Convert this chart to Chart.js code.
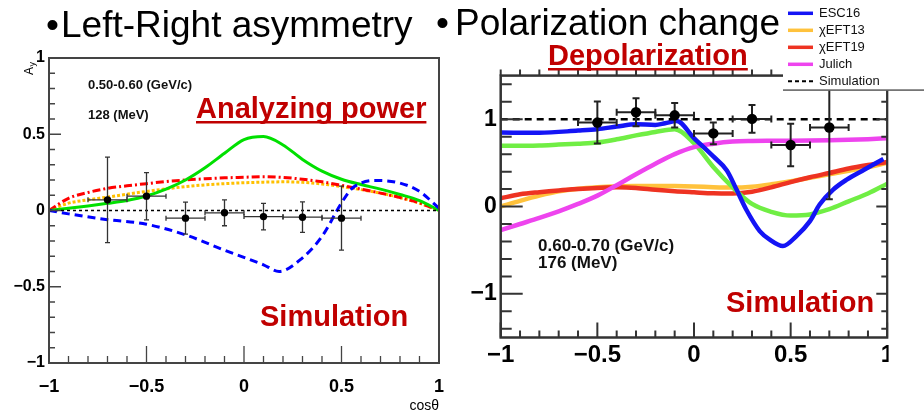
<!DOCTYPE html>
<html>
<head>
<meta charset="utf-8">
<script src="https://cdn.jsdelivr.net/npm/chart.js@4.4.1/dist/chart.umd.min.js"></script>
<style>
  body { margin: 0; background: #fff; width: 924px; height: 418px; overflow: hidden; position: relative; font-family: "Liberation Sans", Arial, sans-serif; }
  .wrap { position: absolute; }
  .title { position: absolute; font-size: 37px; line-height: 37px; color: #000; white-space: nowrap; z-index: 2; }
</style>
</head>
<body>
<div class="title" style="left:46px;top:5.6px">•</div>
<div class="title" style="left:61px;top:5.6px">Left-Right asymmetry</div>
<div class="title" style="left:436px;top:4px">•</div>
<div class="title" style="left:455px;top:4px">Polarization change</div>
<div class="wrap" style="left:0;top:40px;width:460px;height:378px"><canvas id="apChart"></canvas></div>
<div class="wrap" style="left:460px;top:0;width:464px;height:418px"><canvas id="dpChart"></canvas></div>
<script>
// shared cos(theta) grid for the theory curves
const cosTheta = [-1, -0.9, -0.8, -0.7, -0.6, -0.5, -0.4, -0.3, -0.2, -0.1, 0, 0.1, 0.2, 0.3, 0.4, 0.5, 0.6, 0.7, 0.8, 0.9, 1];
const refX = [-1, 1];
const binHalfWidth = 0.1;

// left panel: analyzing power, 0.50-0.60 GeV/c
const apGreen  = [0, 0.015, 0.03, 0.047, 0.066, 0.095, 0.14, 0.2, 0.28, 0.375, 0.465, 0.485, 0.43, 0.335, 0.258, 0.205, 0.17, 0.14, 0.105, 0.065, 0];
const apRed    = [0, 0.08, 0.118, 0.145, 0.162, 0.176, 0.19, 0.2, 0.208, 0.214, 0.218, 0.222, 0.217, 0.205, 0.188, 0.165, 0.14, 0.114, 0.085, 0.05, 0];
const apOrange = [0, 0.048, 0.07, 0.088, 0.107, 0.125, 0.142, 0.157, 0.168, 0.176, 0.182, 0.186, 0.188, 0.185, 0.174, 0.157, 0.137, 0.114, 0.085, 0.048, 0];
const apBlueX  = [-1, -0.9, -0.7, -0.5, -0.3, -0.1, 0.1, 0.18, 0.3, 0.4, 0.5, 0.55, 0.6, 0.67, 0.8, 0.9, 1];
const apBlue   = [0, -0.022, -0.06, -0.09, -0.16, -0.26, -0.356, -0.4, -0.31, -0.17, 0.05, 0.14, 0.18, 0.197, 0.18, 0.125, 0.015];
const apReference = [0, 0];
const apPtsX   = [-0.7, -0.5, -0.3, -0.1, 0.1, 0.3, 0.5];
const apPtsY   = [0.07, 0.094, -0.05, -0.015, -0.04, -0.044, -0.05];
const apPtsErr = [0.28, 0.155, 0.105, 0.085, 0.087, 0.1, 0.21];
const apTicks  = [-1, -0.5, 0, 0.5, 1];

// right panel: depolarization, 0.60-0.70 GeV/c
const dpEscX   = [-1, -0.8, -0.6, -0.5, -0.4, -0.3, -0.2, -0.15, -0.09, 0, 0.1, 0.17, 0.22, 0.27, 0.34, 0.39, 0.46, 0.53, 0.6, 0.65, 0.72, 0.79, 0.88, 0.98];
const dpEsc16  = [0.848, 0.845, 0.87, 0.886, 0.916, 0.943, 0.935, 0.954, 0.98, 0.785, 0.574, 0.414, 0.194, -0.034, -0.281, -0.376, -0.452, -0.338, -0.167, 0.023, 0.194, 0.308, 0.422, 0.544];
const dpEft13  = [0, 0.065, 0.125, 0.175, 0.205, 0.222, 0.232, 0.236, 0.236, 0.234, 0.23, 0.222, 0.218, 0.228, 0.255, 0.29, 0.33, 0.37, 0.41, 0.45, 0.5];
const dpEft19  = [0.095, 0.14, 0.165, 0.185, 0.2, 0.212, 0.22, 0.213, 0.192, 0.175, 0.163, 0.152, 0.15, 0.17, 0.22, 0.28, 0.335, 0.385, 0.435, 0.475, 0.51];
const dpJulich = [-0.27, -0.2, -0.13, -0.055, 0.03, 0.125, 0.245, 0.37, 0.49, 0.6, 0.68, 0.72, 0.745, 0.752, 0.754, 0.755, 0.757, 0.76, 0.765, 0.772, 0.782];
const dpGreen  = [0.696, 0.697, 0.7, 0.71, 0.72, 0.734, 0.77, 0.815, 0.855, 0.885, 0.726, 0.452, 0.22, 0.03, -0.06, -0.103, -0.09, -0.03, 0.06, 0.15, 0.262];
const dpReference = [1, 1];
const dpPtsX   = [-0.5, -0.3, -0.1, 0.1, 0.3, 0.5, 0.7];
const dpPtsY   = [0.962, 1.08, 1.045, 0.838, 1.004, 0.705, 0.905];
const dpPtsErr = [0.24, 0.16, 0.14, 0.125, 0.16, 0.243, 0.82];
const dpXTicks = [-1, -0.5, 0, 0.5, 1];
const dpYTicks = [-1, 0, 1];

const FONT = '"Liberation Sans", Arial, sans-serif';
Chart.defaults.font.family = FONT;

function pts(xs, ys) {
  return xs.map((x, i) => ({x: x, y: ys[i]}));
}
function fmt(v) {
  return (v < 0 ? '\u2212' : '') + Math.abs(v);
}
function curve(label, xs, ys, color, width, dash) {
  return {label: label, data: pts(xs, ys), showLine: true, borderColor: color, backgroundColor: color,
    borderWidth: width, borderDash: dash || [], pointRadius: 0, cubicInterpolationMode: 'monotone', fill: false};
}

/* error bars drawn just before the marker dataset */
const errorBars = {
  id: 'errorBars',
  beforeDatasetDraw(chart, args) {
    const ds = chart.data.datasets[args.index];
    if (!ds.yErr) return;
    const {ctx, chartArea: a, scales: {x, y}} = chart;
    ctx.save();
    ctx.beginPath();
    ctx.rect(a.left, a.top, a.right - a.left, a.bottom - a.top);
    ctx.clip();
    ctx.strokeStyle = ds.errColor;
    ctx.lineWidth = ds.errWidth;
    ds.data.forEach((p, i) => {
      const px = x.getPixelForValue(p.x), py = y.getPixelForValue(p.y);
      const xl = x.getPixelForValue(p.x - binHalfWidth), xr = x.getPixelForValue(p.x + binHalfWidth);
      const yt = y.getPixelForValue(p.y + ds.yErr[i]), yb = y.getPixelForValue(p.y - ds.yErr[i]);
      const c = ds.capSize;
      ctx.beginPath();
      ctx.moveTo(xl, py); ctx.lineTo(xr, py);
      ctx.moveTo(xl, py - c); ctx.lineTo(xl, py + c);
      ctx.moveTo(xr, py - c); ctx.lineTo(xr, py + c);
      ctx.moveTo(px, yt); ctx.lineTo(px, yb);
      ctx.moveTo(px - c, yt); ctx.lineTo(px + c, yt);
      ctx.moveTo(px - c, yb); ctx.lineTo(px + c, yb);
      ctx.stroke();
    });
    ctx.restore();
  }
};

/* ROOT style frame with major and minor ticks */
function makeFrame(cfg) {
  return {
    id: 'frame',
    afterDatasetsDraw(chart) {
      const {ctx, chartArea: a, scales: {x, y}} = chart;
      ctx.save();
      ctx.strokeStyle = cfg.color;
      ctx.lineWidth = cfg.width;
      ctx.strokeRect(a.left, a.top, a.right - a.left, a.bottom - a.top);
      ctx.lineWidth = cfg.tickWidth;
      const xMajor = x.ticks.map(t => t.value), yMajor = y.ticks.map(t => t.value);
      const isMajor = (list, v) => list.some(m => Math.abs(m - v) < 1e-6);
      ctx.beginPath();
      for (let k = Math.ceil(x.min / cfg.xMinor - 1e-6); k * cfg.xMinor <= x.max + 1e-6; k++) {
        const v = k * cfg.xMinor, px = x.getPixelForValue(v), big = isMajor(xMajor, v);
        if (cfg.bottom) { const l = big ? cfg.bottom[0] : cfg.bottom[1]; ctx.moveTo(px, a.bottom); ctx.lineTo(px, a.bottom - l); }
        if (cfg.top) { const l = big ? cfg.top[0] : cfg.top[1]; ctx.moveTo(px, a.top); ctx.lineTo(px, a.top + l); }
      }
      for (let k = Math.ceil(y.min / cfg.yMinor - 1e-6); k * cfg.yMinor <= y.max + 1e-6; k++) {
        const v = k * cfg.yMinor, py = y.getPixelForValue(v), big = isMajor(yMajor, v);
        if (cfg.left) { const l = big ? cfg.left[0] : cfg.left[1]; ctx.moveTo(a.left, py); ctx.lineTo(a.left + l, py); }
        if (cfg.right) { const l = big ? cfg.right[0] : cfg.right[1]; ctx.moveTo(a.right, py); ctx.lineTo(a.right - l, py); }
      }
      ctx.stroke();
      ctx.restore();
    }
  };
}

/* free text labels on the canvas */
function makeTexts(items) {
  return {
    id: 'texts',
    afterDraw(chart) {
      const ctx = chart.ctx;
      ctx.save();
      ctx.textAlign = 'left';
      ctx.textBaseline = 'alphabetic';
      items.forEach(t => {
        ctx.font = t.font;
        ctx.fillStyle = t.color;
        ctx.fillText(t.text, t.x, t.y);
        if (t.underline) {
          ctx.fillRect(t.x, t.y + t.underline, ctx.measureText(t.text).width, 2.5);
        }
      });
      ctx.restore();
    }
  };
}

function scaleOpts(ticks, min, max, fontSize, pad, size, horizontal) {
  return {
    type: 'linear', min: min, max: max,
    afterBuildTicks: s => { s.ticks = ticks.map(v => ({value: v})); },
    afterFit: s => { if (horizontal) s.height = size; else s.width = size; },
    grid: {display: false, drawTicks: false},
    border: {display: false},
    ticks: {autoSkip: false, maxRotation: 0, color: '#000', padding: pad,
      font: {size: fontSize, weight: 'bold', family: FONT}, callback: fmt}
  };
}

/* ---------- left: analyzing power ---------- */
const apYTitle = {
  id: 'apYTitle',
  afterDraw(chart) {
    const ctx = chart.ctx;
    ctx.save();
    ctx.translate(33, 35);
    ctx.rotate(-Math.PI / 2);
    ctx.fillStyle = '#000';
    ctx.font = '12px ' + FONT;
    ctx.fillText('A', 0, 0);
    ctx.font = '9px ' + FONT;
    ctx.fillText('y', 8.5, 2);
    ctx.restore();
  }
};

const apXScale = scaleOpts(apTicks, -1, 1, 18, 13, 55, true);
apXScale.title = {display: true, text: 'cos\u03b8', align: 'end', color: '#000', font: {size: 14, family: FONT}, padding: {top: 0, bottom: 3}};

new Chart(document.getElementById('apChart'), {
  type: 'scatter',
  data: {
    datasets: [
      {label: 'Data', data: pts(apPtsX, apPtsY), yErr: apPtsErr, errColor: '#333', errWidth: 1.3, capSize: 2.5,
        pointRadius: 3.7, pointBorderWidth: 0, backgroundColor: '#000', borderColor: '#000', showLine: false},
      curve('Reference', refX, apReference, '#000', 1.5, [3, 3]),
      curve('Blue', apBlueX, apBlue, '#0000ff', 3, [8, 5]),
      curve('Green', cosTheta, apGreen, '#00e000', 3),
      curve('Red', cosTheta, apRed, '#ff0000', 3, [8, 3, 2, 3]),
      curve('Orange', cosTheta, apOrange, '#ffc000', 3, [3, 2])
    ]
  },
  options: {
    responsive: true, maintainAspectRatio: false, animation: false,
    layout: {padding: {left: 0, top: 18, right: 21, bottom: 0}},
    plugins: {legend: {display: false}, tooltip: {enabled: false}},
    scales: {
      x: apXScale,
      y: scaleOpts(apTicks, -1, 1, 16, 4, 49, false)
    }
  },
  plugins: [errorBars,
    makeFrame({color: '#444', width: 2, tickWidth: 1.3, xMinor: 0.1, yMinor: 0.1, left: [12, 6], bottom: [17, 7]}),
    makeTexts([
      {text: '0.50-0.60 (GeV/c)', x: 88, y: 49, font: 'bold 13px ' + FONT, color: '#111'},
      {text: '128 (MeV)', x: 88, y: 78.5, font: 'bold 13px ' + FONT, color: '#111'},
      {text: 'Analyzing power', x: 196, y: 78, font: 'bold 29px ' + FONT, color: '#c00000', underline: 3},
      {text: 'Simulation', x: 260, y: 286, font: 'bold 29px ' + FONT, color: '#c00000'}
    ]),
    apYTitle]
});

/* ---------- right: depolarization ---------- */
const dpOverlay = {
  id: 'dpOverlay',
  afterDraw(chart) {
    const ctx = chart.ctx, a = chart.chartArea;
    ctx.save();
    // the source picture is cut just after the right frame
    ctx.fillStyle = '#fff';
    ctx.fillRect(a.right + 1.3, 91, 60, 340);
    // legend box
    ctx.fillRect(323, 0, 141, 90);
    ctx.fillStyle = '#666';
    ctx.fillRect(323, 89.3, 141, 1.6);
    ctx.font = '13px ' + FONT;
    ctx.textBaseline = 'middle';
    chart.data.datasets.filter(d => d.legendRow !== undefined).forEach(d => {
      const ly = 13.3 + 17 * d.legendRow;
      ctx.strokeStyle = d.borderColor;
      ctx.lineWidth = d.legendRow === 4 ? 2 : 3.5;
      ctx.setLineDash(d.legendRow === 4 ? [4, 3] : []);
      ctx.beginPath(); ctx.moveTo(328, ly); ctx.lineTo(353, ly); ctx.stroke();
      ctx.fillStyle = '#111';
      ctx.fillText(d.label, 359, ly + 0.5);
    });
    ctx.restore();
  }
};

const esc = curve('ESC16', dpEscX, dpEsc16, '#1414f5', 4.5); esc.legendRow = 0;
const e13 = curve('\u03c7EFT13', cosTheta, dpEft13, '#ffc23c', 4.5); e13.legendRow = 1;
const e19 = curve('\u03c7EFT19', cosTheta, dpEft19, '#ee3322', 4.5); e19.legendRow = 2;
const jul = curve('Julich', cosTheta, dpJulich, '#ee44ee', 4.5); jul.legendRow = 3;
const sim = curve('Simulation', refX, dpReference, '#000', 2.5, [7, 5]); sim.legendRow = 4;

new Chart(document.getElementById('dpChart'), {
  type: 'scatter',
  data: {
    datasets: [
      {label: 'Data', data: pts(dpPtsX, dpPtsY), yErr: dpPtsErr, errColor: '#222', errWidth: 2, capSize: 3.5,
        pointRadius: 5.2, pointBorderWidth: 0, backgroundColor: '#000', borderColor: '#000', showLine: false},
      sim, esc, jul,
      curve('Green', cosTheta, dpGreen, '#70ee44', 4.5),
      e19, e13
    ]
  },
  options: {
    responsive: true, maintainAspectRatio: false, animation: false,
    layout: {padding: {left: 0, top: 75.6, right: 36.7, bottom: 0}},
    plugins: {legend: {display: false}, tooltip: {enabled: false}},
    scales: {
      x: scaleOpts(dpXTicks, -1, 1, 24, 3, 80.5, true),
      y: scaleOpts(dpYTicks, -1.5, 1.5, 23, 4, 40.7, false)
    }
  },
  plugins: [errorBars,
    makeFrame({color: '#333', width: 2.5, tickWidth: 2, xMinor: 0.1, yMinor: 0.2, left: [22, 11], bottom: [15, 7], right: [11, 6], top: [-6, -6]}),
    makeTexts([
      {text: 'Depolarization', x: 88, y: 65, font: 'bold 29px ' + FONT, color: '#c00000', underline: 3},
      {text: '0.60-0.70 (GeV/c)', x: 78, y: 250.7, font: 'bold 17px ' + FONT, color: '#111'},
      {text: '176 (MeV)', x: 78, y: 268, font: 'bold 17px ' + FONT, color: '#111'},
      {text: 'Simulation', x: 266, y: 312, font: 'bold 29px ' + FONT, color: '#c00000'}
    ]),
    dpOverlay]
});
</script>
</body>
</html>
